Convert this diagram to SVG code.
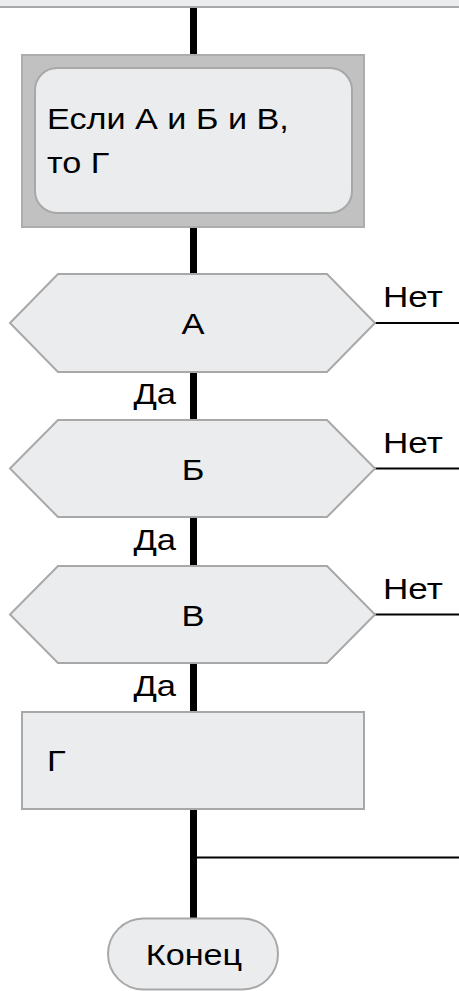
<svg xmlns="http://www.w3.org/2000/svg" width="459" height="991" viewBox="0 0 459 991">
<style>
text{font-family:"Liberation Sans",Arial,sans-serif;font-size:30px;fill:#000}
.shape{fill:#ebecee;stroke:#a8a8a8;stroke-width:2}
.thick{stroke:#000;stroke-width:7;fill:none}
.thin{stroke:#000;stroke-width:2;fill:none}
.c{text-anchor:middle}
.r{text-anchor:end}
</style>
<rect x="0" y="0" width="459" height="6" fill="#ebeced"/>
<line x1="0" y1="7" x2="459" y2="7" stroke="#a9a9a9" stroke-width="2"/>
<g id="connectors">
<line class="thick" x1="193.5" y1="8" x2="193.5" y2="918"/>
<line class="thin" x1="375" y1="323" x2="459" y2="323"/>
<line class="thin" x1="375" y1="468.5" x2="459" y2="468.5"/>
<line class="thin" x1="375" y1="614.5" x2="459" y2="614.5"/>
<line class="thin" x1="196" y1="857.5" x2="459" y2="857.5"/>
<text class="r" transform="translate(176 404) scale(1.15 1)">Да</text>
<text class="r" transform="translate(176 549.5) scale(1.15 1)">Да</text>
<text class="r" transform="translate(176 696) scale(1.15 1)">Да</text>
<text transform="translate(383 306.5) scale(1.17 1)">Нет</text>
<text transform="translate(383 452.5) scale(1.17 1)">Нет</text>
<text transform="translate(383 598.5) scale(1.17 1)">Нет</text>
</g>
<g id="start">
<rect x="22" y="55" width="342" height="172" fill="#c2c1c2" stroke="#adadad" stroke-width="2"/>
<rect class="shape" x="35" y="68" width="317" height="145" rx="22"/>
<text transform="translate(47 129) scale(1.14 1)">Если А и Б и В,</text>
<text transform="translate(47 173) scale(1.14 1)">то Г</text>
</g>
<g id="condA">
<polygon class="shape" points="10,323 58,274 327,274 375,323 327,372 58,372"/>
<text class="c" transform="translate(193 334) scale(1.15 1)">А</text>
</g>
<g id="condB">
<polygon class="shape" points="10,468.5 58,420 327,420 375,468.5 327,517 58,517"/>
<text class="c" transform="translate(193 479.5) scale(1.15 1)">Б</text>
</g>
<g id="condV">
<polygon class="shape" points="10,614.5 58,566 327,566 375,614.5 327,663 58,663"/>
<text class="c" transform="translate(193 626) scale(1.15 1)">В</text>
</g>
<g id="actionG">
<rect class="shape" x="22" y="712" width="342" height="97"/>
<text transform="translate(47 771) scale(1.15 1)">Г</text>
</g>
<g id="end">
<rect class="shape" x="108" y="918.5" width="170" height="71" rx="35.5"/>
<text class="c" transform="translate(194 965) scale(1.14 1)">Конец</text>
</g>
</svg>
